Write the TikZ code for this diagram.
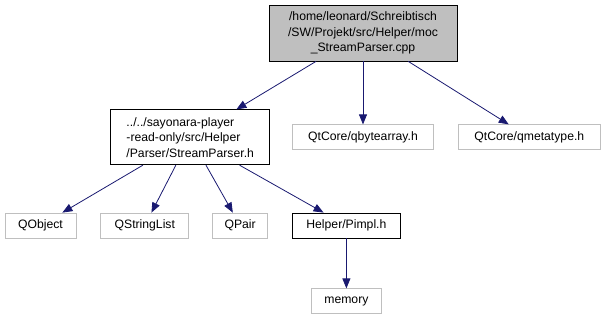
\documentclass[tikz,border=0pt]{standalone}
\usepackage{fontspec}
\setmainfont{Liberation Sans}
\usetikzlibrary{arrows.meta, positioning}

\definecolor{edgeblue}{HTML}{191970}
\definecolor{extgray}{HTML}{BFBFBF}

\begin{document}
\begin{tikzpicture}[
		x=1pt, y=-1pt,
		>={Triangle[length=10pt,width=8pt]},
		node distance=24pt and 24pt,
		block/.style={draw, line width=0.8pt, inner sep=0pt, minimum height=25pt,
			font=\fontsize{12.2}{15.5}\selectfont},
		srcfile/.style={block, fill=extgray, minimum height=56pt, align=center},
		hdrfile/.style={block, fill=white},
		extfile/.style={block, draw=extgray, fill=white},
		arr/.style={->, edgeblue, line width=0.8pt},
	]
		\useasboundingbox (0,0) rectangle (603,320);

		% File being documented
		\node[srcfile, minimum width=188pt] (moc) at (363,33)
			{/home/leonard/Schreibtisch\\/SW/Projekt/src/Helper/moc\\\_StreamParser.cpp};

		% First level includes
		\node[extfile, minimum width=141pt, below=63pt of moc] (qbytearray) {QtCore/qbytearray.h};
		\node[extfile, minimum width=142pt, right=24pt of qbytearray] (qmetatype) {QtCore/qmetatype.h};
		\node[hdrfile, minimum width=159pt, minimum height=55pt, align=left, left=22pt of qbytearray] (parser)
			{../../sayonara-player\\-read-only/src/Helper\\/Parser/StreamParser.h};

		% Includes of StreamParser.h
		\node[extfile, minimum width=71pt] (qobject) at (40.5,225.5) {QObject};
		\node[extfile, minimum width=88pt, right=24pt of qobject] (qstringlist) {QStringList};
		\node[extfile, minimum width=55pt, right=23pt of qstringlist] (qpair) {QPair};
		\node[hdrfile, minimum width=108pt, right=24pt of qpair] (pimpl) {Helper/Pimpl.h};
		\node[extfile, minimum width=70pt, below=50pt of pimpl] (memory) {memory};

		% Arrows
		\draw[arr] (moc) -- (parser);
		\draw[arr] (moc) -- (qbytearray);
		\draw[arr] (moc) -- (qmetatype);
		\draw[arr] (parser) -- (qobject);
		\draw[arr] (parser) -- (qstringlist);
		\draw[arr] (parser) -- (qpair);
		\draw[arr] (parser) -- (pimpl);
		\draw[arr] (pimpl) -- (memory);
	\end{tikzpicture}
\end{document}
